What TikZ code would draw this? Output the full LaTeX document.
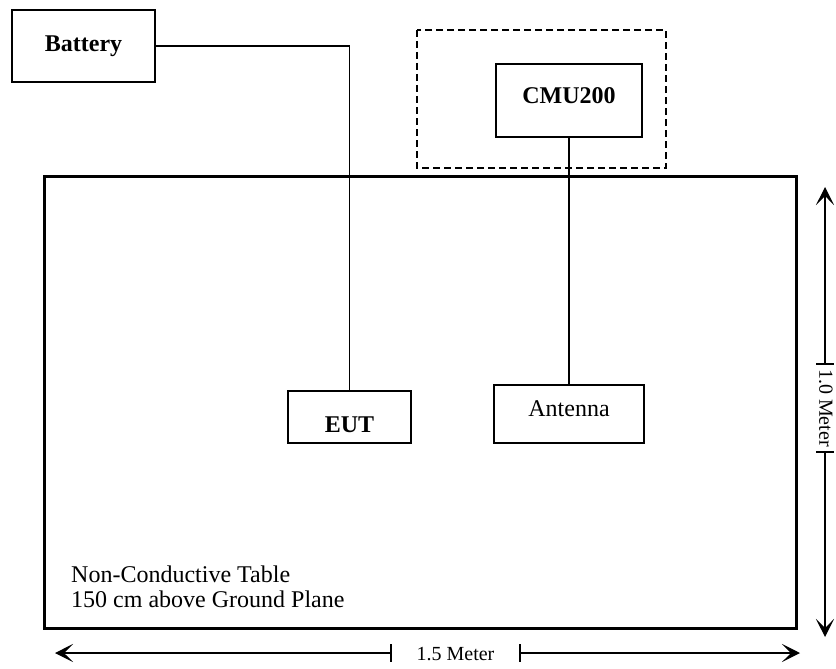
\documentclass[tikz,border=0pt]{standalone}
\usepackage{fontspec}
\setmainfont{Liberation Serif}
\usetikzlibrary{arrows.meta}
\tikzset{
	unit/.style={draw, line width=1.4pt, inner sep=0pt, font=\bfseries\fontsize{24}{28}\selectfont},
	wire/.style={line width=1.3pt},
	dim/.style={line width=1.3pt, -{Stealth[length=18pt, width=18pt, inset=9pt]}},
}
\begin{document}
\begin{tikzpicture}[x=1pt, y=-1pt]
	\useasboundingbox (0,0) rectangle (836,669);
	
	%table and tester area
	\draw[line width=3pt] (44,176) rectangle (796,628);
	\draw[line width=1.3pt, dash pattern=on 7pt off 4pt] (417,30) rectangle (666,168);
	
	%units
	\node[unit, minimum width=146pt, minimum height=73pt, text depth=10pt] (cmu) at (569,100.5) {CMU200};
	\node[unit, minimum width=143pt, minimum height=72pt] (battery) at (83.5,46) {Battery};
	\node[unit, minimum width=123pt, minimum height=52pt, text height=30pt, text depth=0pt] (eut) at (349.5,417) {EUT};
	\node[unit, minimum width=150pt, minimum height=58pt, text height=17pt, text depth=13pt, font=\fontsize{24}{28}\selectfont] (antenna) at (569,414) {Antenna};
	
	%cables
	\draw[wire] (battery.east) -| (eut.north);
	\draw[wire] (cmu.south) -- (antenna.north);
	
	\node[anchor=north west, inner sep=0pt, align=left, font=\fontsize{24}{25}\selectfont] (tabletext) at (71,566) {Non-Conductive Table\\150 cm above Ground Plane};
	
	%width of table
	\node[font=\fontsize{20}{22}\selectfont] (wlabel) at (455.5,654) {1.5 Meter};
	\coordinate (wl) at (391,653);
	\coordinate (wr) at (520,653);
	\draw[dim] (wl) -- (55,653);
	\draw[dim] (wr) -- (800,653);
	\draw[wire] (391,644) -- (391,662);
	\draw[wire] (520,644) -- (520,662);
	
	%depth of table
	\node[font=\fontsize{20}{22}\selectfont, rotate=-90] (dlabel) at (826,408) {1.0 Meter};
	\coordinate (dt) at (825,364);
	\coordinate (db) at (825,452);
	\draw[dim] (dt) -- (825,187);
	\draw[dim] (db) -- (825,637);
	\draw[wire] (816,364) -- (834,364);
	\draw[wire] (816,452) -- (834,452);
\end{tikzpicture}
\end{document}
